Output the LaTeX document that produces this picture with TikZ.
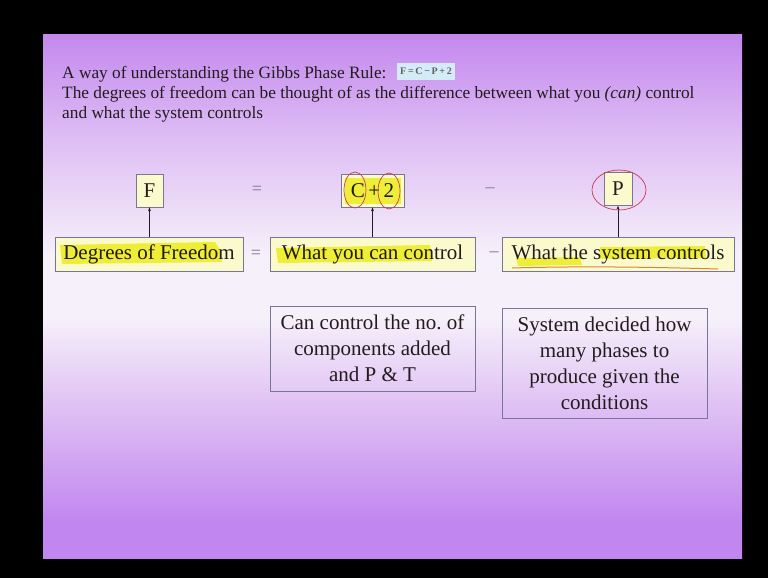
\documentclass[tikz,border=0pt]{standalone}
\usepackage{fontspec}
\setmainfont{Liberation Serif}
\usetikzlibrary{arrows.meta,shapes.geometric}
\definecolor{ptop}{RGB}{196,136,238}
\definecolor{pbot}{RGB}{194,134,240}
\definecolor{plight}{RGB}{246,240,250}
\definecolor{pmid}{RGB}{222,190,244}
\definecolor{boxc}{RGB}{120,118,150}
\definecolor{paley}{RGB}{250,250,205}
\definecolor{hly}{RGB}{242,242,40}
\definecolor{txt}{RGB}{34,28,30}
\definecolor{penred}{RGB}{200,60,80}
\definecolor{formbg}{RGB}{212,236,248}
\pgfdeclareverticalshading{slidebg}{100bp}{color(0bp)=(pbot); color(25bp)=(pbot); color(28.5bp)=(pbot); color(39bp)=(pmid); color(48bp)=(plight); color(54bp)=(plight); color(65bp)=(pmid); color(75bp)=(ptop); color(100bp)=(ptop)}
\begin{document}
\begin{tikzpicture}[x=1pt,y=-1pt,
  every node/.style={text=txt},
  headtext/.style={anchor=base west, inner sep=0pt, font=\fontsize{17.3}{20}\selectfont},
  topbox/.style={draw=boxc, fill=paley, line width=0.6pt, minimum height=33pt, inner sep=0pt, font=\fontsize{21}{24}\selectfont},
  rowbox/.style={draw=boxc, fill=paley, line width=0.6pt, minimum height=34pt, inner sep=0pt, font=\fontsize{21}{24}\selectfont},
  notebox/.style={draw=boxc, line width=0.8pt, align=center, inner sep=0pt, font=\fontsize{21}{26}\selectfont},
  opsign/.style={inner sep=0pt, font=\fontsize{18}{20}\selectfont, text=boxc},
  uparrow/.style={draw=txt, line width=0.6pt, -{Stealth[length=4pt,width=3pt]}},
  highlight/.style={fill=hly, blend mode=multiply, opacity=0.85},
  pen/.style={draw=penred, line width=0.7pt}
]
\useasboundingbox (0,0) rectangle (768,578);
\fill[black] (0,0) rectangle (768,578);
\shade[shading=slidebg] (43,35) rectangle (742,558);

% header
\node[headtext] (l1) at (62,78) {A way of understanding the Gibbs Phase Rule:};
\node[draw=none, fill=formbg, inner sep=0pt, minimum width=58pt, minimum height=17pt, font=\fontsize{10}{11}\selectfont\bfseries, text=txt!70] (form) at (426,71.5) {F\,=\,C\,−\,P\,+\,2};
\node[headtext] (l2) at (62,98) {The degrees of freedom can be thought of as the difference between what you \textit{(can)} control};
\node[headtext] (l3) at (62,118) {and what the system controls};

% top row
\node[topbox, minimum width=27pt] (F) at (149.5,190.5) {F};
\node[opsign] (eqtop) at (257,190) {=};
\node[topbox, minimum width=63pt] (C2) at (372.5,190.5) {C\,+\,2};
\node[opsign] (mitop) at (490,190) {–};
\node[topbox, minimum width=28pt] (P) at (618,189) {P};

% bottom row
\node[rowbox, minimum width=188pt] (dof) at (149,254) {Degrees of Freedom};
\node[opsign] (eqbot) at (256,254) {=};
\node[rowbox, minimum width=205pt] (wyc) at (372.5,254) {What you can control};
\node[opsign] (mibot) at (494,254) {–};
\node[rowbox, minimum width=232pt] (wsc) at (618,254) {What the system controls};

% highlighter strokes
\fill[highlight] (345,178) rectangle (401,204);
\fill[highlight] (60,245) -- (215,242) -- (220,250) -- (222,262) -- (62,264) -- cycle;
\fill[highlight] (276,248) -- (430,245) -- (432,261) -- (278,263) -- cycle;
\fill[highlight] (516,258) -- (580,257) -- (582,265) -- (518,266) -- cycle;
\fill[highlight] (600,247) -- (705,246) -- (706,258) -- (600,259) -- cycle;

% arrows
\draw[uparrow] (dof.north -| F) -- (F.south);
\draw[uparrow] (wyc.north -| C2) -- (C2.south);
\draw[uparrow] (wsc.north -| P) -- (P.south);

% pen annotations
\draw[pen] (355,190) ellipse [x radius=11, y radius=18];
\draw[pen] (389,191) ellipse [x radius=11, y radius=18];
\draw[pen] (619,190) ellipse [x radius=27, y radius=20];
\draw[pen, draw=penred!60!hly, line width=1pt] (512,268) .. controls (580,266) and (650,267) .. (718,269);

% note boxes
\node[notebox, minimum width=205pt, minimum height=85pt] (n1) at (372.5,348.5) {Can control the no.\ of\\components added\\and P \& T};
\node[notebox, minimum width=205pt, minimum height=110pt] (n2) at (604.5,363) {System decided how\\many phases to\\produce given the\\conditions};
\end{tikzpicture}
\end{document}
